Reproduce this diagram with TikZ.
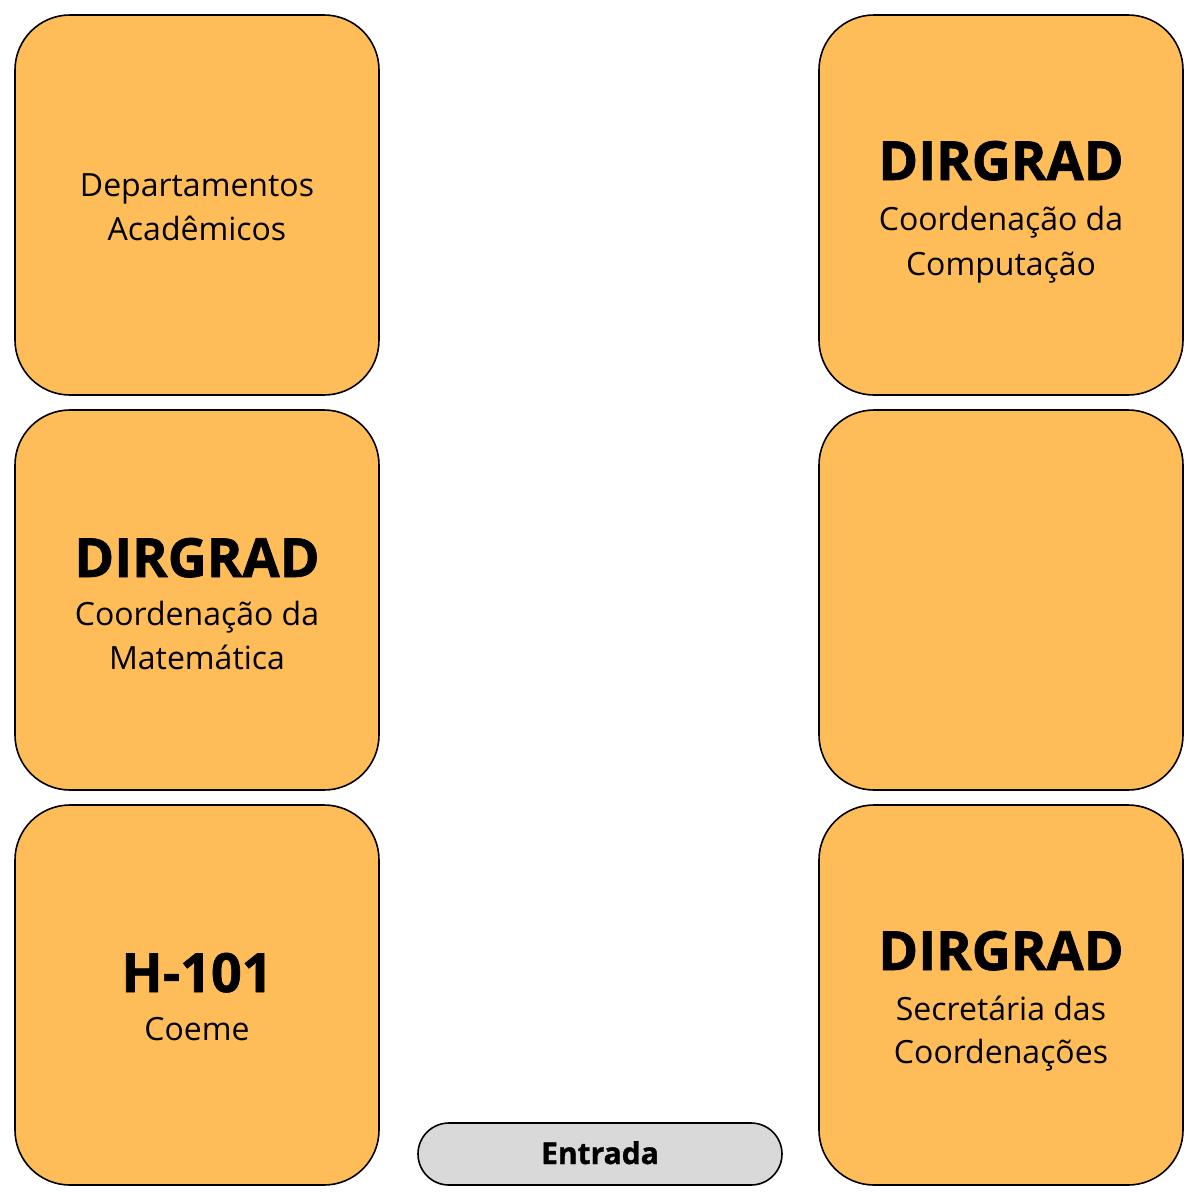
\documentclass[tikz,border=0pt]{standalone}
\usepackage{fontspec}
\setmainfont{Open Sans}[BoldFeatures={FakeBold=1.2}]
\definecolor{boxfill}{HTML}{FFBD59}
\definecolor{entfill}{HTML}{D9D9D9}
\tikzset{
  room/.style={draw=black, line width=1.6pt, fill=boxfill, rounded corners=55pt,
    minimum width=364pt, minimum height=380pt, inner sep=0pt},
  door/.style={draw=black, line width=1.6pt, fill=entfill, rounded corners=31pt,
    minimum width=364pt, minimum height=62pt, inner sep=0pt},
  big/.style={font=\fontsize{54}{54}\selectfont\bfseries, anchor=base, inner sep=0pt},
  small/.style={font=\fontsize{32}{38}\selectfont, anchor=base, inner sep=0pt},
  btn/.style={font=\fontsize{30}{36}\selectfont\bfseries, anchor=base, inner sep=0pt}
}
\begin{document}
\begin{tikzpicture}[x=1pt,y=-1pt]
\useasboundingbox (0,0) rectangle (1200,1200);
\node[room] (dep) at (197,205) {};
\node[room] (mat) at (197,600) {};
\node[room] (h101) at (197,995) {};
\node[room] (comp) at (1001,205) {};
\node[room] (mid) at (1001,600) {};
\node[room] (sec) at (1001,995) {};
\node[door] (ent) at (600,1154) {};

\node[small] (dep1) at ([yshift=9pt]dep.center) {Departamentos};
\node[small] (dep2) at ([yshift=-35pt]dep.center) {Acadêmicos};

\node[big] (mat0) at ([yshift=23pt]mat.center) {DIRGRAD};
\node[small] (mat1) at ([yshift=-25pt]mat.center) {Coordenação da};
\node[small] (mat2) at ([yshift=-69pt]mat.center) {Matemática};

\node[big] (h0) at ([yshift=3pt]h101.center) {H-101};
\node[small] (h1) at ([yshift=-45pt]h101.center) {Coeme};

\node[big] (comp0) at ([yshift=25pt]comp.center) {DIRGRAD};
\node[small] (comp1) at ([yshift=-25pt]comp.center) {Coordenação da};
\node[small] (comp2) at ([yshift=-70pt]comp.center) {Computação};

\node[big] (sec0) at ([yshift=25pt]sec.center) {DIRGRAD};
\node[small] (sec1) at ([yshift=-25pt]sec.center) {Secretária das};
\node[small] (sec2) at ([yshift=-68pt]sec.center) {Coordenações};

\node[btn] (ent0) at ([yshift=-10pt]ent.center) {Entrada};
\end{tikzpicture}
\end{document}
